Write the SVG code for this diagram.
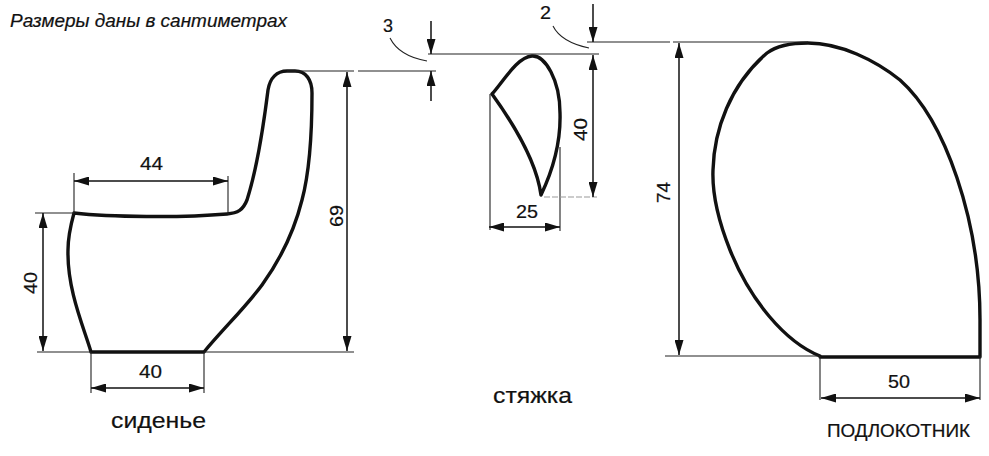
<svg xmlns="http://www.w3.org/2000/svg" width="989" height="456" viewBox="0 0 989 456">
<defs>
<marker id="a" viewBox="0 0 15 9" refX="15" refY="4.500" markerWidth="15" markerHeight="9" orient="auto-start-reverse" markerUnits="userSpaceOnUse"><path d="M0 0L15 4.500L0 9Z" fill="#111"/></marker>
</defs>
<style>
.o{fill:none;stroke:#111;stroke-width:3.4;stroke-linecap:round;stroke-linejoin:round}
.t{fill:none;stroke:#222;stroke-width:1.1}
.g{fill:none;stroke:#999;stroke-width:1.1;stroke-dasharray:6 2}
.d{fill:none;stroke:#111;stroke-width:1.5;marker-start:url(#a);marker-end:url(#a)}
.s{fill:none;stroke:#111;stroke-width:1.5;marker-end:url(#a)}
text{font-family:"Liberation Sans",Arial,sans-serif;fill:#111;font-size:17.500px;stroke:#111;stroke-width:.2}
.l{font-size:22px}
</style>
<rect width="989" height="456" fill="#fff"/>
<text x="10" y="27" font-style="italic" style="font-size:18px" textLength="277" lengthAdjust="spacingAndGlyphs">Размеры даны в сантиметрах</text>
<g id="seat">
<path class="o" d="M91 352C84 328 67 290 68 250C68 236 71 224 74 213C110 217 180 218 227 214C238 213 243 210 247 200C255 175 263 130 268 90C270 78 277 71 287 71L295 71C306 71 312 80 312 93C312 135 310 170 302 200C294 232 280 260 262 285C245 308 222 330 204 352Z"/>
<text x="140" y="170" textLength="23" lengthAdjust="spacingAndGlyphs">44</text>
<text x="139" y="378" textLength="23" lengthAdjust="spacingAndGlyphs">40</text>
<text transform="translate(37 294) rotate(-90)" textLength="22" lengthAdjust="spacingAndGlyphs">40</text>
<text transform="translate(343 227) rotate(-90)" textLength="22" lengthAdjust="spacingAndGlyphs">69</text>
<text class="l" x="111" y="428" textLength="95" lengthAdjust="spacingAndGlyphs">сиденье</text>
</g>
<g id="tie">
<path class="o" d="M492 94C503 82 517 57 532 56C545 55 560 80 560 113C561 145 552 172 541 195C537 165 518 130 492 94Z"/>
<text x="516" y="218" textLength="22" lengthAdjust="spacingAndGlyphs">25</text>
<text transform="translate(587 141) rotate(-90)" textLength="23" lengthAdjust="spacingAndGlyphs">40</text>
<text class="l" x="493" y="403" textLength="79" lengthAdjust="spacingAndGlyphs">стяжка</text>
</g>
<g id="arm">
<path class="o" d="M820 356C785 342 750 300 730 250C718 220 712 195 713 170C714 130 730 85 767 53C775 47 790 43 808 43C840 43 875 60 900 80C945 120 980 220 980 320L980 357H820Z"/>
<text x="888" y="388" textLength="22" lengthAdjust="spacingAndGlyphs">50</text>
<text transform="translate(670 203) rotate(-90)" textLength="21" lengthAdjust="spacingAndGlyphs">74</text>
<text x="827" y="437" style="font-size:18px" textLength="143" lengthAdjust="spacingAndGlyphs">ПОДЛОКОТНИК</text>
</g>
<g id="connectors">
<path class="t" d="M74 173V213M228 176V214M35 213H74M37 352H91M91 352V393M204 352V393M204 352H354M287 71H354M358 71H436M428 54H599M490 94V230M560 147V231M587 42H670M673 42H808M665 356H820M820 356V400M980 356V400"/>
<path class="g" d="M544 197H597"/>
<path class="t" d="M390 38C396 50 410 58 427 61M553 26C558 36 570 44 589 48"/>
<path class="d" d="M74 181H228"/>
<path class="d" d="M43 213V351"/>
<path class="d" d="M91 388H204"/>
<path class="d" d="M347 72V351"/>
<path class="d" d="M489 227H560"/>
<path class="d" d="M593 55V197"/>
<path class="d" d="M679 43V355"/>
<path class="d" d="M821 398H980"/>
<path class="s" d="M431 21V54"/>
<path class="s" d="M431 101V71"/>
<path class="s" d="M593 4V42"/>
<text x="383" y="32" textLength="10" lengthAdjust="spacingAndGlyphs">3</text>
<text x="540" y="19" textLength="11" lengthAdjust="spacingAndGlyphs">2</text>
</g>
</svg>
